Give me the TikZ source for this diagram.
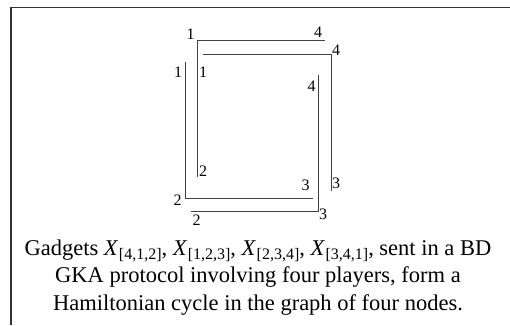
\documentclass[tikz,border=0pt]{standalone}
\usepackage{fontspec}
\setmainfont{Liberation Serif}
\newcommand{\gx}[1]{\textit{X}\kern0.5pt\raisebox{-0.4ex}{\fontsize{16}{16}\selectfont #1}}
\begin{document}
\begin{tikzpicture}[x=1pt,y=-1pt,
  gadget/.style={draw=black!75,line width=0.9pt},
  frameline/.style={draw=black!80,line width=1.3pt},
  lbl/.style={font=\fontsize{16}{16}\selectfont,inner sep=0pt}]
\useasboundingbox (0,0) rectangle (510,325);
% frame
\coordinate (fbl) at (11,325);
\coordinate (ftl) at (11,7.5);
\coordinate (ftr) at (510,7.5);
\draw[frameline] (fbl) -- (ftl) -- (ftr);
% gadget X[4,1,2]
\coordinate (a1) at (325,40.5);
\coordinate (ac) at (197.5,40.5);
\coordinate (a2) at (197.5,177);
\draw[gadget] (a1) -- (ac) -- (a2);
\node[lbl] (la1) at (318,32.5) {4};
\node[lbl] (lac) at (190.5,34.5) {1};
\node[lbl] (la2) at (203,171.5) {2};
% gadget X[1,2,3]
\coordinate (b1) at (185,62);
\coordinate (bc) at (185,198.5);
\coordinate (b2) at (313,198.5);
\draw[gadget] (b1) -- (bc) -- (b2);
\node[lbl] (lb1) at (178,72) {1};
\node[lbl] (lbc) at (177.5,200.5) {2};
\node[lbl] (lb2) at (305.5,185.5) {3};
% gadget X[2,3,4]
\coordinate (c1) at (191,211);
\coordinate (cc) at (318.5,211);
\coordinate (c2) at (318.5,75);
\draw[gadget] (c1) -- (cc) -- (c2);
\node[lbl] (lc1) at (196.5,220) {2};
\node[lbl] (lcc) at (323,214) {3};
\node[lbl] (lc2) at (311.5,86.5) {4};
% gadget X[3,4,1]
\coordinate (d1) at (203,54);
\coordinate (dc) at (331,54);
\coordinate (d2) at (331,191);
\draw[gadget] (d1) -- (dc) -- (d2);
\node[lbl] (ld1) at (203,72) {1};
\node[lbl] (ldc) at (336,50.5) {4};
\node[lbl] (ld2) at (336,183.5) {3};
% caption
\node[font=\fontsize{22.5}{27.5}\selectfont,align=center,inner sep=0pt,anchor=north] (cap) at (258,239.5)
 {Gadgets \gx{[4,1,2]}, \gx{[1,2,3]}, \gx{[2,3,4]}, \gx{[3,4,1]}, sent in a BD\\
  GKA protocol involving four players, form a\\
  Hamiltonian cycle in the graph of four nodes.};
\end{tikzpicture}
\end{document}
